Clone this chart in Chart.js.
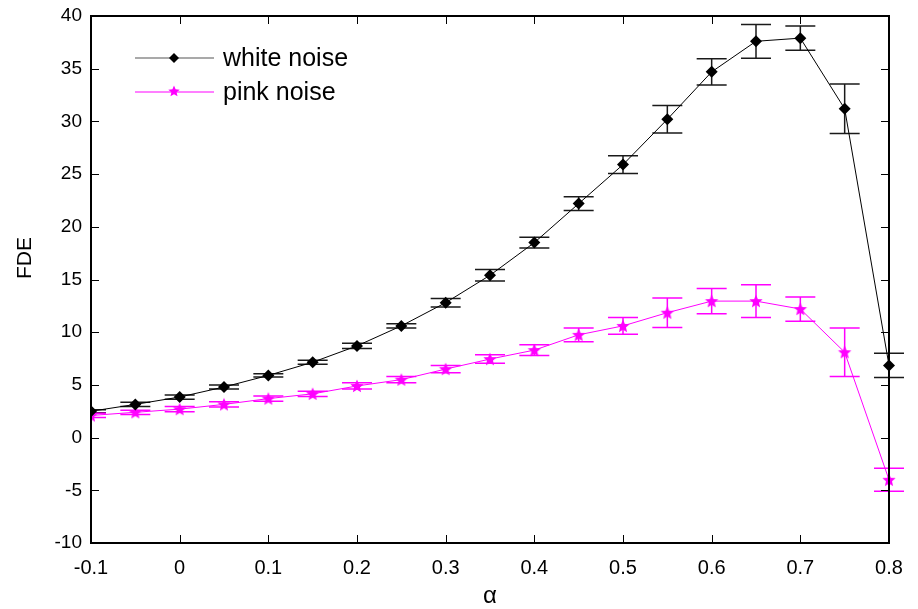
<!DOCTYPE html>
<html>
<head>
<meta charset="utf-8">
<title>FDE vs alpha</title>
<script src="https://cdn.jsdelivr.net/npm/chart.js@4.4.1/dist/chart.umd.min.js"></script>
<style>
  html, body { margin: 0; padding: 0; background: #fff; }
  #wrap { width: 918px; height: 609px; }
</style>
</head>
<body>
<div id="wrap"><canvas id="fdeChart" width="918" height="609"></canvas></div>
<script>
// alpha values on the x axis
var alphas = [-0.1, -0.05, 0, 0.05, 0.1, 0.15, 0.2, 0.25, 0.3, 0.35, 0.4, 0.45, 0.5, 0.55, 0.6, 0.65, 0.7, 0.75, 0.8];

// mean FDE and error half-widths
var whiteMean = [2.5, 3.15, 3.85, 4.8, 5.9, 7.15, 8.7, 10.6, 12.8, 15.4, 18.5, 22.2, 25.9, 30.2, 34.7, 37.6, 37.9, 31.2, 6.85];
var whiteErr  = [0.15, 0.2, 0.2, 0.2, 0.15, 0.2, 0.25, 0.2, 0.4, 0.55, 0.5, 0.65, 0.85, 1.3, 1.25, 1.6, 1.15, 2.35, 1.15];
var pinkMean  = [2.1, 2.4, 2.7, 3.15, 3.7, 4.15, 4.9, 5.5, 6.5, 7.45, 8.3, 9.75, 10.6, 11.85, 12.95, 12.95, 12.2, 8.1, -4.0];
var pinkErr   = [0.2, 0.2, 0.25, 0.25, 0.25, 0.25, 0.3, 0.3, 0.35, 0.4, 0.5, 0.65, 0.8, 1.4, 1.2, 1.55, 1.15, 2.3, 1.1];

var xTicks = [-0.1, 0, 0.1, 0.2, 0.3, 0.4, 0.5, 0.6, 0.7, 0.8];
var yTicks = [-10, -5, 0, 5, 10, 15, 20, 25, 30, 35, 40];

var PINK = '#ff00ff';
var FONT = '"Liberation Sans", Arial, sans-serif';

function points(ys) {
  return alphas.map(function(a, i) { return { x: a, y: ys[i] }; });
}

// filled five-point star used as the pink marker
function makeStar(r, color) {
  var c = document.createElement('canvas');
  c.width = c.height = r * 2 + 2;
  var g = c.getContext('2d');
  var cx = r + 1, cy = r + 1.5, inner = r * 0.45;
  g.beginPath();
  for (var k = 0; k < 10; k++) {
    var rad = k % 2 === 0 ? r : inner;
    var ang = -Math.PI / 2 + k * Math.PI / 5;
    var px = cx + rad * Math.cos(ang), py = cy + rad * Math.sin(ang);
    if (k === 0) g.moveTo(px, py); else g.lineTo(px, py);
  }
  g.closePath();
  g.fillStyle = color;
  g.fill();
  return c;
}
var starImg = makeStar(7, PINK);
var legendStar = makeStar(6, PINK);

// vertical error bars with caps, drawn under the markers
var errorBars = {
  id: 'errorBars',
  beforeDatasetsDraw: function(chart) {
    var ctx = chart.ctx, xs = chart.scales.x, ys = chart.scales.y, area = chart.chartArea;
    var sets = [[whiteMean, whiteErr, '#1a1a1a'], [pinkMean, pinkErr, PINK]];
    ctx.save();
    ctx.beginPath();
    ctx.rect(area.left, 0, chart.width - area.left, chart.height);
    ctx.clip();
    ctx.lineWidth = 1.5;
    sets.forEach(function(s) {
      ctx.strokeStyle = s[2];
      alphas.forEach(function(a, i) {
        var px = xs.getPixelForValue(a);
        var hi = ys.getPixelForValue(s[0][i] + s[1][i]);
        var lo = ys.getPixelForValue(s[0][i] - s[1][i]);
        ctx.beginPath();
        ctx.moveTo(px, hi); ctx.lineTo(px, lo);
        ctx.moveTo(px - 15, hi); ctx.lineTo(px + 15, hi);
        ctx.moveTo(px - 15, lo); ctx.lineTo(px + 15, lo);
        ctx.stroke();
      });
    });
    ctx.restore();
  }
};

// box around the plot, inward tick marks, axis titles and the legend
var frame = {
  id: 'frame',
  afterDraw: function(chart) {
    var ctx = chart.ctx, a = chart.chartArea, xs = chart.scales.x, ys = chart.scales.y;
    var len = 8;
    ctx.save();
    ctx.strokeStyle = '#000';
    ctx.lineWidth = 1;
    ctx.beginPath();
    xTicks.forEach(function(v) {
      var px = Math.round(xs.getPixelForValue(v)) + 0.5;
      ctx.moveTo(px, a.bottom); ctx.lineTo(px, a.bottom - len);
      ctx.moveTo(px, a.top); ctx.lineTo(px, a.top + len);
    });
    yTicks.forEach(function(v) {
      var py = Math.round(ys.getPixelForValue(v)) + 0.5;
      ctx.moveTo(a.left, py); ctx.lineTo(a.left + len, py);
      ctx.moveTo(a.right, py); ctx.lineTo(a.right - len, py);
    });
    ctx.stroke();
    ctx.lineWidth = 2;
    ctx.strokeRect(a.left, a.top, a.right - a.left, a.bottom - a.top);

    // axis titles
    ctx.fillStyle = '#000';
    ctx.textAlign = 'center';
    ctx.textBaseline = 'middle';
    ctx.font = '24px ' + FONT;
    ctx.fillText('α', (a.left + a.right) / 2, 596);
    ctx.save();
    ctx.translate(25, 258);
    ctx.rotate(-Math.PI / 2);
    ctx.font = '21px ' + FONT;
    ctx.fillText('FDE', 0, 0);
    ctx.restore();
    ctx.restore();

    // legend in the upper left of the plot
    var entries = [
      { label: 'white noise', line: '#555', y: 58 },
      { label: 'pink noise', line: PINK, y: 92 }
    ];
    ctx.save();
    ctx.font = '25px ' + FONT;
    ctx.textBaseline = 'middle';
    entries.forEach(function(e, k) {
      ctx.strokeStyle = e.line;
      ctx.lineWidth = 1.2;
      ctx.beginPath();
      ctx.moveTo(135, e.y); ctx.lineTo(214, e.y);
      ctx.stroke();
      if (k === 0) {
        ctx.fillStyle = '#000';
        ctx.beginPath();
        ctx.moveTo(174, e.y - 5); ctx.lineTo(179, e.y);
        ctx.lineTo(174, e.y + 5); ctx.lineTo(169, e.y);
        ctx.closePath();
        ctx.fill();
      } else {
        ctx.drawImage(legendStar, 174 - legendStar.width / 2, e.y - legendStar.height / 2 - 1);
      }
      ctx.fillStyle = '#000';
      ctx.fillText(e.label, 223, e.y + 1);
    });
    ctx.restore();
  }
};

var ctx = document.getElementById('fdeChart');
var chart = new Chart(ctx, {
  type: 'line',
  data: {
    datasets: [
      {
        label: 'white noise',
        data: points(whiteMean),
        borderColor: '#000',
        backgroundColor: '#000',
        borderWidth: 1,
        pointStyle: 'rectRot',
        pointRadius: 6,
        pointBorderWidth: 0,
        pointBackgroundColor: '#000',
        tension: 0,
        clip: { left: 0, top: false, right: false, bottom: false }
      },
      {
        label: 'pink noise',
        data: points(pinkMean),
        borderColor: PINK,
        backgroundColor: PINK,
        borderWidth: 1,
        pointStyle: starImg,
        tension: 0,
        clip: { left: 0, top: false, right: false, bottom: false }
      }
    ]
  },
  options: {
    responsive: false,
    animation: false,
    layout: { padding: { top: 16, right: 29, left: 0, bottom: 0 } },
    plugins: {
      legend: { display: false },
      tooltip: { enabled: false }
    },
    scales: {
      x: {
        type: 'linear',
        min: -0.1,
        max: 0.8,
        afterBuildTicks: function(scale) {
          scale.ticks = xTicks.map(function(v) { return { value: v }; });
        },
        afterFit: function(scale) { scale.height = 66; },
        grid: { display: false },
        border: { display: false },
        ticks: {
          padding: 5,
          color: '#000',
          font: { family: FONT, size: 20 },
          callback: function(v) { return String(Math.round(v * 10) / 10); }
        }
      },
      y: {
        min: -10,
        max: 40,
        afterBuildTicks: function(scale) {
          scale.ticks = yTicks.map(function(v) { return { value: v }; });
        },
        afterFit: function(scale) { scale.width = 91; },
        grid: { display: false },
        border: { display: false },
        ticks: {
          padding: 1,
          color: '#000',
          font: { family: FONT, size: 19 }
        }
      }
    }
  },
  plugins: [errorBars, frame]
});
</script>
</body>
</html>
